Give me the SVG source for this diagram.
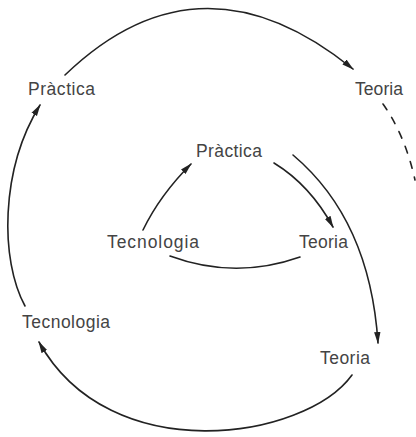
<svg xmlns="http://www.w3.org/2000/svg" width="416" height="437" viewBox="0 0 416 437">
<style>
.lbl{font-family:"Liberation Sans",Arial,sans-serif;font-size:17.5px;fill:#444}
.ln{fill:none;stroke:#222;stroke-width:1.6;stroke-linecap:round}
.arr{marker-end:url(#ah)}
.dash{stroke-dasharray:7 9}
</style>
<defs>
<marker id="ah" markerUnits="userSpaceOnUse" markerWidth="12" markerHeight="8" refX="11" refY="4" orient="auto">
<path d="M0,0.8 L12,4 L0,7.2 z" fill="#222"/>
</marker>
</defs>
<rect width="416" height="437" fill="#fff"/>
<g id="connectors">
<path class="ln arr" d="M65,75 Q200,-55 353,69"/>
<path class="ln dash" d="M383,104 Q405,135 415,180"/>
<path class="ln arr" d="M25,306 C0,260 0,170 40,105"/>
<path class="ln arr" d="M352,375 C305,440 110,470 39,342"/>
<path class="ln arr" d="M293,155 Q370,220 378,343"/>
<path class="ln arr" d="M274,163 Q310,185 333,227"/>
<path class="ln arr" d="M143,230 Q160,195 191,164"/>
<path class="ln" d="M300,257 Q235,280 170,256"/>
</g>
<g id="outer-practica"><text class="lbl" x="28" y="95" textLength="67" lengthAdjust="spacing">Pràctica</text></g>
<g id="outer-teoria-top"><text class="lbl" x="355" y="95" textLength="48" lengthAdjust="spacing">Teoria</text></g>
<g id="inner-practica"><text class="lbl" x="196" y="157" textLength="66" lengthAdjust="spacing">Pràctica</text></g>
<g id="inner-tecnologia"><text class="lbl" x="107" y="248" textLength="92" lengthAdjust="spacing">Tecnologia</text></g>
<g id="inner-teoria"><text class="lbl" x="299" y="248" textLength="49" lengthAdjust="spacing">Teoria</text></g>
<g id="outer-tecnologia"><text class="lbl" x="22" y="328" textLength="88" lengthAdjust="spacing">Tecnologia</text></g>
<g id="outer-teoria-bottom"><text class="lbl" x="320" y="364" textLength="50" lengthAdjust="spacing">Teoria</text></g>
</svg>
